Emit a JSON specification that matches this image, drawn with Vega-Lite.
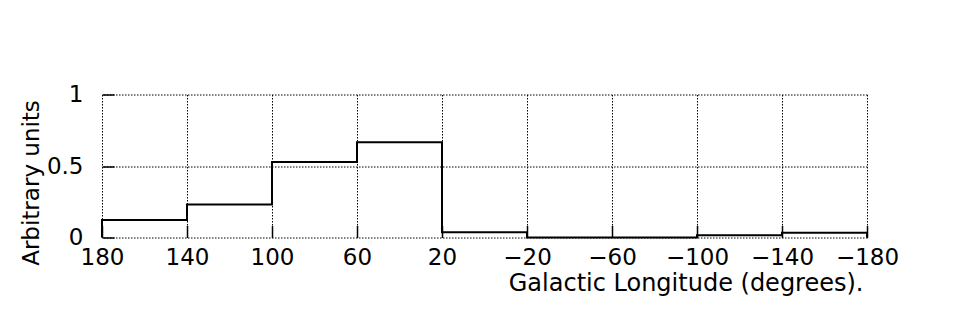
{
  "$schema": "https://vega.github.io/schema/vega-lite/v6.json",
  "width": 765,
  "height": 143,
  "autosize": {"type": "none"},
  "padding": {"left": 102, "top": 94.5, "right": 86, "bottom": 98.5},
  "background": "white",
  "config": {"view": {"stroke": null}, "font": "DejaVu Sans"},
  "data": {
    "values": [
      {"lon": 180, "units": 0, "o": 0},
      {"lon": 180, "units": 0.122, "o": 1},
      {"lon": 140, "units": 0.231, "o": 2},
      {"lon": 100, "units": 0.528, "o": 3},
      {"lon": 60, "units": 0.666, "o": 4},
      {"lon": 20, "units": 0.036, "o": 5},
      {"lon": -20, "units": 0, "o": 6},
      {"lon": -60, "units": 0, "o": 7},
      {"lon": -100, "units": 0.015, "o": 8},
      {"lon": -140, "units": 0.033, "o": 9},
      {"lon": -180, "units": 0.033, "o": 10},
      {"lon": -180, "units": 0, "o": 11}
    ]
  },
  "layer": [
    {
      "mark": {"type": "line", "interpolate": "step-after", "strokeOpacity": 0},
      "encoding": {
        "x": {
          "field": "lon", "type": "quantitative",
          "scale": {"domain": [-180, 180], "reverse": true, "nice": false, "zero": false},
          "axis": {
            "orient": "bottom", "values": [-180, -140, -100, -60, -20, 20, 60, 100, 140, 180],
            "labels": false, "grid": false, "domain": false, "ticks": true, "offset": -12,
            "tickSize": 12, "tickColor": "black", "tickWidth": 1.5, "title": null
          }
        },
        "y": {
          "field": "units", "type": "quantitative",
          "scale": {"domain": [0, 1], "nice": false},
          "axis": {
            "orient": "left", "values": [0, 0.5, 1],
            "labels": false, "grid": false, "domain": false, "ticks": true, "offset": -12,
            "tickSize": 12, "tickColor": "black", "tickWidth": 1.5, "title": null
          }
        },
        "order": {"field": "o", "type": "quantitative"}
      }
    },
    {
      "mark": {"type": "line", "interpolate": "step-after", "color": "black", "strokeWidth": 2},
      "encoding": {
        "x": {
          "field": "lon", "type": "quantitative",
          "scale": {"domain": [-180, 180], "reverse": true, "nice": false, "zero": false},
          "axis": {
            "orient": "bottom", "values": [-180, -140, -100, -60, -20, 20, 60, 100, 140, 180],
            "format": "d", "labelFontSize": 23, "labelColor": "black", "labelPadding": 9,
            "labelFlush": false, "labelOverlap": false, "labelBound": false,
            "ticks": false, "domain": false,
            "grid": true, "gridColor": "black", "gridDash": [1.5, 1.5], "gridOpacity": 1, "gridWidth": 1,
            "title": "Galactic Longitude (degrees).", "titleFontSize": 24, "titleFontWeight": "normal",
            "titleColor": "black", "titleAlign": "right", "titleBaseline": "alphabetic",
            "titleX": 761, "titleY": 52.5
          }
        },
        "y": {
          "field": "units", "type": "quantitative",
          "scale": {"domain": [0, 1], "nice": false},
          "axis": {
            "orient": "left", "values": [0, 0.5, 1], "format": "~g",
            "labelFontSize": 23, "labelColor": "black", "labelPadding": 19,
            "labelFlush": false, "labelOverlap": false, "labelBound": false,
            "ticks": false, "domain": false,
            "grid": true, "gridColor": "black", "gridDash": [1.5, 1.5], "gridOpacity": 1, "gridWidth": 1,
            "title": "Arbitrary units", "titleFontSize": 23, "titleFontWeight": "normal",
            "titleColor": "black", "titleAngle": 270, "titleAlign": "center", "titleBaseline": "alphabetic",
            "titleX": -64, "titleY": 88
          }
        },
        "order": {"field": "o", "type": "quantitative"}
      }
    }
  ],
  "resolve": {"axis": {"x": "independent", "y": "independent"}}
}
